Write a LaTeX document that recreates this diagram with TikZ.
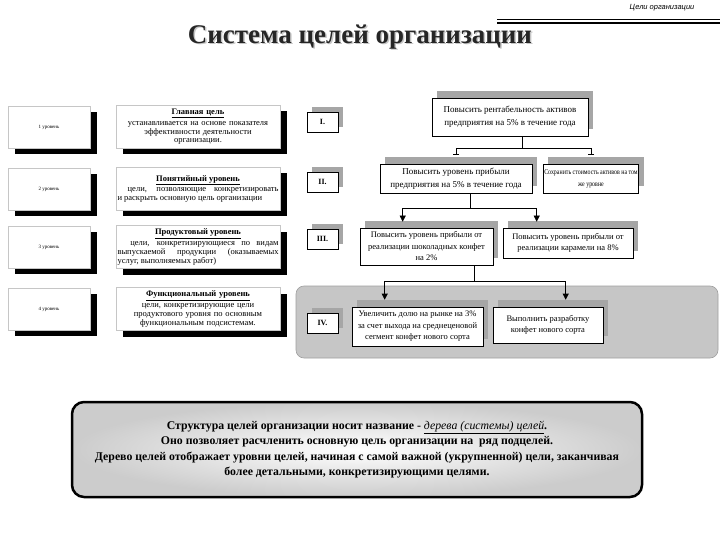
\documentclass[tikz,border=0pt]{standalone}
\usepackage{fontspec}
\setmainfont{Liberation Serif}
\setsansfont{Liberation Sans}
\usetikzlibrary{arrows.meta,shadows}

\tikzset{
  lvl/.style={draw=gray!45,fill=white,minimum width=82pt,minimum height=42pt,inner sep=1pt,
    font=\fontsize{5}{6}\selectfont,drop shadow={shadow xshift=7pt,shadow yshift=-6pt,fill=black,opacity=1}},
  descr/.style={draw=gray!45,fill=white,minimum width=164pt,minimum height=43pt,text width=161pt,inner sep=1.5pt,
    font=\fontsize{8.5}{8.9}\selectfont,drop shadow={shadow xshift=7pt,shadow yshift=-6pt,fill=black,opacity=1}},
  rom/.style={draw,fill=white,minimum width=31pt,minimum height=20pt,inner sep=1pt,
    font=\fontsize{8}{9}\selectfont\bfseries,drop shadow={shadow xshift=5pt,shadow yshift=5pt,fill=gray!70,opacity=1}},
  goal/.style={draw,fill=white,align=center,inner sep=1pt,font=\fontsize{8.5}{11.5}\selectfont,
    drop shadow={shadow xshift=5pt,shadow yshift=7pt,fill=gray!70,opacity=1}},
  tee/.style={-{Bar[width=6pt,line width=0.8pt]},shorten >=9pt},
  flow/.style={-{Triangle[width=6pt,length=6pt]},shorten >=6pt}
}

\begin{document}
\begin{tikzpicture}[x=1pt,y=-1pt,line width=0.6pt]
  \useasboundingbox (0,0) rectangle (720,540);

  % header and title
  \node[font=\sffamily\itshape\fontsize{7.5}{9}\selectfont,anchor=east] (hdr) at (698,8) {Цели организации};
  \draw[line width=0.6pt] (497,19.5) -- (720,19.5);
  \draw[line width=1.4pt] (497,23) -- (720,23);
  \node[font=\fontsize{27}{30}\selectfont\bfseries,text=gray!45] (ttlsh) at (361.5,38.5) {Система целей организации};
  \node[font=\fontsize{27}{30}\selectfont\bfseries,text=black!85] (ttl) at (360,37) {Система целей организации};

  % panel of level IV
  \draw[fill=gray!45,draw=gray!75,rounded corners=8pt] (296,286) rectangle (718,358);

  % left column
  \node[lvl] (l1) at (49,127) {1 уровень};
  \node[lvl] (l2) at (49,189) {2 уровень};
  \node[lvl] (l3) at (49,247) {3 уровень};
  \node[lvl] (l4) at (49,309) {4 уровень};
  \node[descr,align=center] (d1) at (198,127) {\underline{\textbf{Главная цель}}\\[1.5pt]устанавливается на основе показателя\\эффективности деятельности\\организации.};
  \node[descr,align=justify] (d2) at (198,189) {{\centering\underline{\textbf{Понятийный уровень}}\par}\vspace{1.5pt}
    \hspace*{1.2em}цели, позволяющие конкретизировать\linebreak и раскрыть основную цель организации};
  \node[descr,align=justify] (d3) at (198,247) {{\centering\underline{\textbf{Продуктовый уровень}}\par}\vspace{1.5pt}
    \hspace*{1.5em}цели, конкретизирующиеся по видам\linebreak выпускаемой продукции (оказываемых\linebreak услуг, выполняемых работ)};
  \node[descr,align=center] (d4) at (198,309) {\underline{\textbf{Функциональный уровень}}\\[1.5pt]цели, конкретизирующие цели\\продуктового уровня по основным\\функциональным подсистемам.};

  % level marks
  \node[rom] (r1) at (322.5,122) {I.};
  \node[rom] (r2) at (322.5,182) {II.};
  \node[rom] (r3) at (322.5,239) {III.};
  \node[rom] (r4) at (322.5,323) {IV.};

  % goal tree
  \node[goal,minimum width=156pt,minimum height=38pt,font=\fontsize{9}{13}\selectfont] (g1) at (510,117) {Повысить рентабельность активов\\предприятия на 5\% в течение года};
  \node[goal,minimum width=152pt,minimum height=29pt,font=\fontsize{9}{12.5}\selectfont] (g2a) at (456,178.5) {Повысить уровень прибыли\\предприятия на 5\% в течение года};
  \node[goal,minimum width=92pt,minimum height=29pt,font=\fontsize{7.4}{12}\selectfont\addfontfeature{FakeStretch=0.8}] (g2b) at (591,178.5) {Сохранить стоимость активов на том\\же уровне};
  \node[goal,minimum width=133pt,minimum height=37pt] (g3a) at (426.5,246.5) {Повысить уровень прибыли от\\реализации шоколадных конфет\\на 2\%};
  \node[goal,minimum width=130pt,minimum height=30pt] (g3b) at (568,243) {Повысить уровень прибыли от\\реализации карамели на 8\%};
  \node[goal,minimum width=131pt,minimum height=39pt] (g4a) at (417.5,326.5) {Увеличить долю на рынке на 3\%\\за счет выхода на среднеценовой\\сегмент конфет нового сорта};
  \node[goal,minimum width=110pt,minimum height=36pt] (g4b) at (548,325) {Выполнить разработку\\конфет нового сорта};

  % connectors
  \draw ([xshift=12pt]g1.south) -- ++(0,12) coordinate (j1);
  \draw[tee] (j1) -| (g2a.north);
  \draw[tee] (j1) -| (g2b.north);
  \draw ([xshift=14pt]g2a.south) -- ++(0,15) coordinate (j2);
  \draw[flow] (j2) -| ([xshift=43pt]g3a.north west);
  \draw[flow] (j2) -| ([xshift=34pt]g3b.north west);
  \draw ([xshift=48pt]g3a.south) -- ++(0,16) coordinate (j3);
  \draw[flow,shorten >=7pt] (j3) -| ([xshift=33pt]g4a.north west);
  \draw[flow,shorten >=7pt] (j3) -| ([xshift=73pt]g4b.north west);

  % note
  \node[draw,line width=2.5pt,rounded corners=12pt,inner color=white,outer color=gray!40,
    minimum width=570pt,minimum height=95pt,align=center,font=\fontsize{11.8}{15.5}\selectfont\bfseries] (note) at (357,449.5)
    {Структура целей организации носит название - \underline{\textit{\mdseries дерева (системы) целей}}.\\
     Оно позволяет расчленить основную цель организации на\ \ ряд подцелей.\\
     Дерево целей отображает уровни целей, начиная с самой важной (укрупненной) цели, заканчивая\\
     более детальными, конкретизирующими целями.};
\end{tikzpicture}
\end{document}
